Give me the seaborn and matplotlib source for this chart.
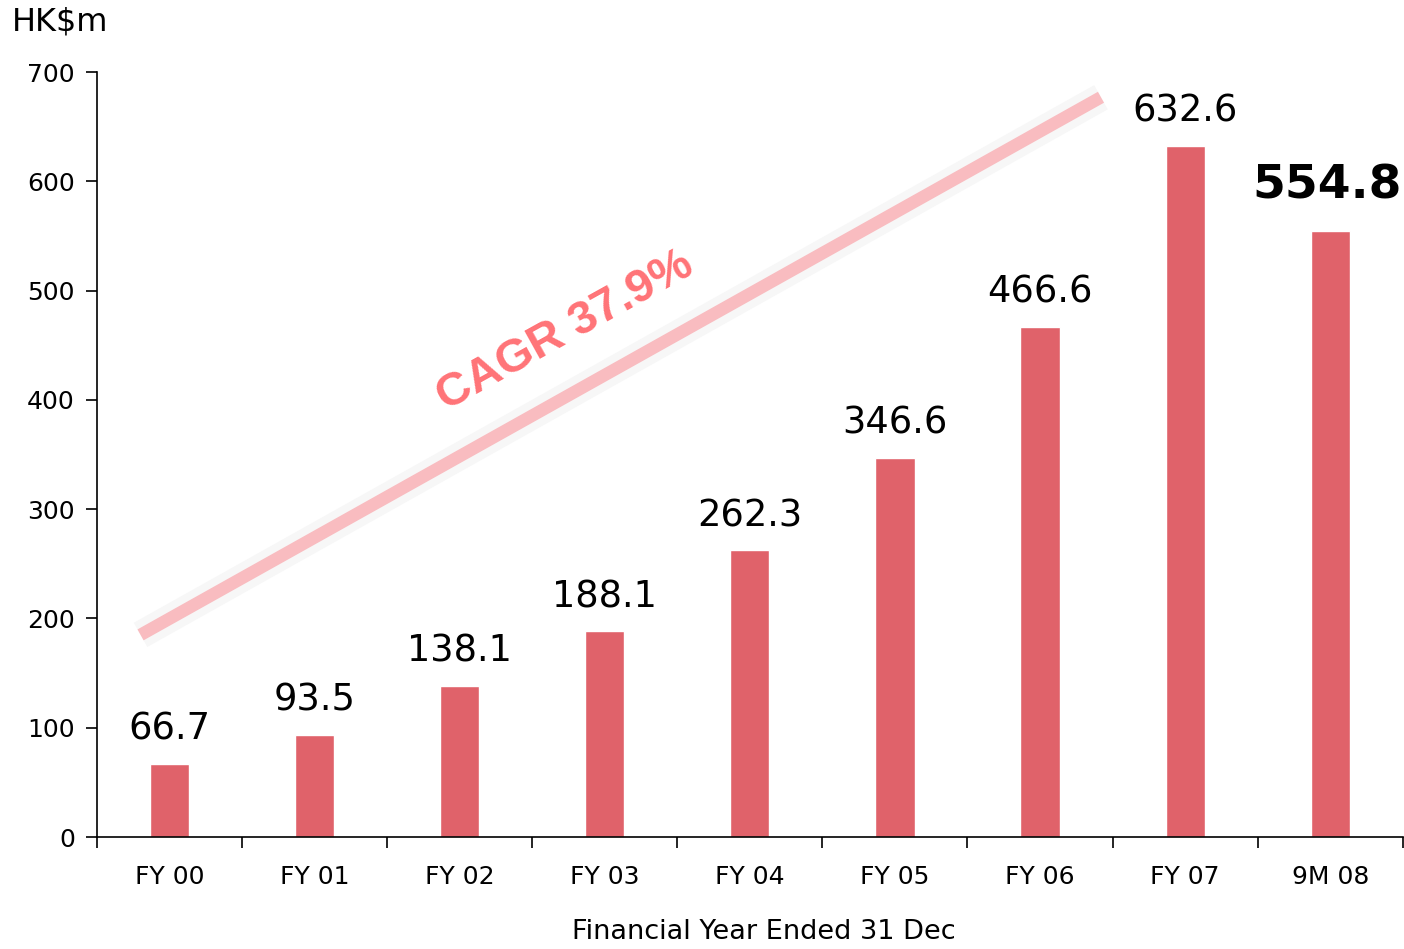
import matplotlib
matplotlib.use("Agg")
import matplotlib.pyplot as plt
import numpy as np
import seaborn as sns
import pandas as pd

categories = ["FY 00", "FY 01", "FY 02", "FY 03", "FY 04", "FY 05", "FY 06", "FY 07", "9M 08"]
values = [66.7, 93.5, 138.1, 188.1, 262.3, 346.6, 466.6, 632.6, 554.8]
labels = ["66.7", "93.5", "138.1", "188.1", "262.3", "346.6", "466.6", "632.6", "554.8"]
cagr_text = "CAGR 37.9%"
cagr_start = (-0.2, 185)
cagr_end = (6.42, 677)

sns.set_style("white", {"text.color": "black", "axes.labelcolor": "black",
                        "xtick.color": "black", "ytick.color": "black"})
plt.rcParams["font.family"] = ["DejaVu Sans"]

df = pd.DataFrame({"period": categories, "value": values})

fig = plt.figure(figsize=(14.04, 9.49), dpi=100)
ax = fig.add_axes([0.0691, 0.118, 0.93, 0.806])

sns.barplot(data=df, x="period", y="value", color="#E0626A", saturation=1,
            width=0.27, ax=ax)

# value labels
for i, (v, lab) in enumerate(zip(values, labels)):
    if i == len(values) - 1:
        ax.text(i - 0.02, v + 20, lab, ha="center", va="bottom", fontsize=34,
                fontweight="bold", color="black")
    else:
        ax.text(i, v + 15, lab, ha="center", va="bottom", fontsize=26.5, color="black")

# CAGR trend line
ax.plot([cagr_start[0], cagr_end[0]], [cagr_start[1], cagr_end[1]], color="#F7F7F7",
        lw=20, solid_capstyle="butt", zorder=1)
ax.plot([cagr_start[0], cagr_end[0]], [cagr_start[1], cagr_end[1]], color="#F9BCC0",
        lw=9, solid_capstyle="butt", zorder=2)
ax.text(2.73, 463, cagr_text, rotation=29, ha="center", va="center",
        fontsize=34, fontweight="bold", color="#FF7377",
        family=["Liberation Sans", "DejaVu Sans"], rotation_mode="anchor")

ax.set_xlim(-0.5, 8.5)
ax.set_ylim(0, 700)
ax.set_yticks(np.arange(0, 701, 100))
ax.tick_params(axis="y", labelsize=18, length=8, width=1.2, direction="out", pad=8, left=True)
ax.tick_params(axis="x", which="major", labelsize=18, length=0, pad=20)
ax.set_xticks(np.arange(-0.5, 8.6, 1), minor=True)
ax.tick_params(axis="x", which="minor", length=8, width=1.2, direction="out", bottom=True)
ax.set_xlabel("Financial Year Ended 31 Dec", fontsize=19.5, color="black")
ax.xaxis.set_label_coords(0.511, -0.107)
ax.set_ylabel("")
sns.despine(ax=ax)
for s in ["left", "bottom"]:
    ax.spines[s].set_linewidth(1.2)
    ax.spines[s].set_color("black")

fig.text(12 / 1404, 1 - 22 / 949, "HK$m", fontsize=23, ha="left", va="center", color="black")

fig.savefig("out.png", dpi=100)
